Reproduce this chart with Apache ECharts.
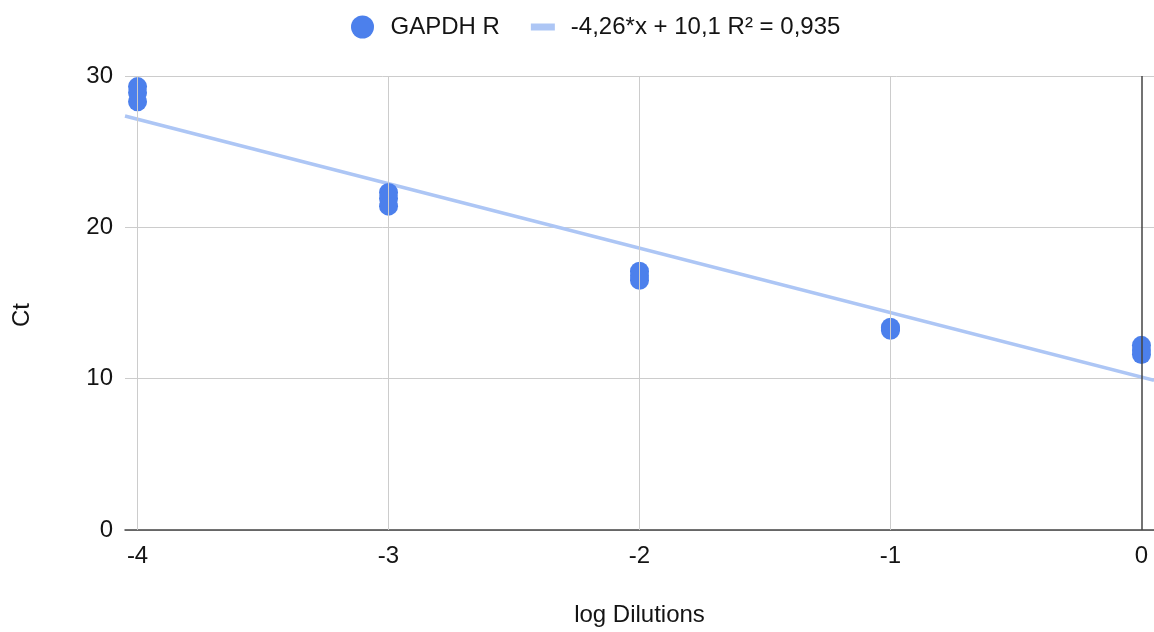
<!DOCTYPE html>
<html>
<head>
<meta charset="utf-8">
<title>GAPDH R standard curve</title>
<script src="https://cdn.jsdelivr.net/npm/echarts@6/dist/echarts.min.js"></script>
<style>
  html, body { margin: 0; padding: 0; background: #fff; }
  #chart { width: 1154px; height: 632px; }
</style>
</head>
<body>
<div id="chart"></div>
<script>
// Standard curve: Ct against log dilution, replicate wells per dilution step
const logDilutions = [-4, -4, -4, -3, -3, -3, -2, -2, -2, -1, -1, -1, 0, 0, 0];
const ctValues     = [29.3, 28.9, 28.3, 22.3, 21.9, 21.4, 17.1, 16.8, 16.5, 13.4, 13.3, 13.2, 12.2, 11.9, 11.6];

// Linear trend reported for the series
const trendSlope = -4.26;
const trendIntercept = 10.1;
const trendR2 = 0.935;

// Axis ranges and tick labels
const xRange = [-4.05, 0.05];
const xTicks = [-4, -3, -2, -1, 0];
const yTicks = [0, 10, 20, 30];

const seriesName = 'GAPDH R';
const fmt = (v) => String(v).replace('.', ',');
const trendName = fmt(trendSlope) + '*x + ' + fmt(trendIntercept) + ' R² = ' + fmt(trendR2);

const points = logDilutions.map((x, i) => [x, ctValues[i]]);
const trendPoints = xRange.map((x) => [x, trendSlope * x + trendIntercept]);

const FONT = "'Liberation Sans', Arial, Helvetica, sans-serif";
const FS = 24;
const TEXT = '#141414';
const GRID = '#cccccc';
const DARK = '#444444';
const BLUE = '#4c80ec';
const LIGHT_BLUE = '#adc6f5';

const chart = echarts.init(document.getElementById('chart'), null, { renderer: 'canvas' });

chart.setOption({
  backgroundColor: '#ffffff',
  animation: false,
  textStyle: { fontFamily: FONT, color: TEXT },
  legend: {
    left: 346,
    top: 10,
    itemWidth: 24,
    itemHeight: 23,
    itemGap: 31,
    textStyle: { fontSize: FS, color: TEXT, fontFamily: FONT, padding: [0, 0, 0, 11] },
    data: [
      { name: seriesName, icon: 'circle' },
      { name: trendName, icon: 'path://M0,0H24V7H0Z' }
    ]
  },
  graphic: [{
    type: 'text',
    x: 22,
    y: 315,
    rotation: Math.PI / 2,
    style: {
      text: 'Ct',
      font: FS + 'px ' + FONT,
      fill: TEXT,
      align: 'center',
      verticalAlign: 'middle'
    }
  }],
  grid: { left: 125, right: 0, top: 76, bottom: 101 },
  xAxis: {
    type: 'value',
    min: xRange[0],
    max: xRange[1],
    name: 'log Dilutions',
    nameLocation: 'middle',
    nameGap: 73,
    nameTextStyle: { fontSize: FS, color: TEXT, fontFamily: FONT },
    axisLine: { show: true, onZero: false, lineStyle: { color: DARK, width: 1.5 } },
    axisTick: { show: false },
    splitLine: { show: false },
    axisLabel: {
      customValues: xTicks,
      fontSize: FS,
      color: TEXT,
      margin: 14,
      fontFamily: FONT
    }
  },
  yAxis: {
    type: 'value',
    min: yTicks[0],
    max: yTicks[yTicks.length - 1],
    interval: 10,
    axisLine: { show: false },
    axisTick: { show: false },
    splitLine: { show: true, lineStyle: { color: GRID, width: 1 } },
    axisLabel: { fontSize: FS, color: TEXT, margin: 12, fontFamily: FONT }
  },
  series: [
    {
      // vertical grid lines and the zero line at x = 0
      name: 'grid-lines',
      type: 'line',
      data: [],
      z: 1,
      silent: true,
      markLine: {
        silent: true,
        symbol: ['none', 'none'],
        label: { show: false },
        animation: false,
        data: xTicks.map((v) => ({
          xAxis: v,
          lineStyle: { color: v === 0 ? DARK : GRID, width: v === 0 ? 1.5 : 1, type: 'solid' }
        }))
      }
    },
    {
      name: trendName,
      type: 'line',
      data: trendPoints,
      z: 2,
      showSymbol: false,
      symbol: 'none',
      color: LIGHT_BLUE,
      lineStyle: { color: LIGHT_BLUE, width: 3.5 },
      itemStyle: { color: LIGHT_BLUE }
    },
    {
      name: seriesName,
      type: 'scatter',
      data: points,
      z: 3,
      symbol: 'circle',
      symbolSize: 19,
      itemStyle: { color: BLUE, opacity: 1 }
    }
  ]
});
</script>
</body>
</html>
